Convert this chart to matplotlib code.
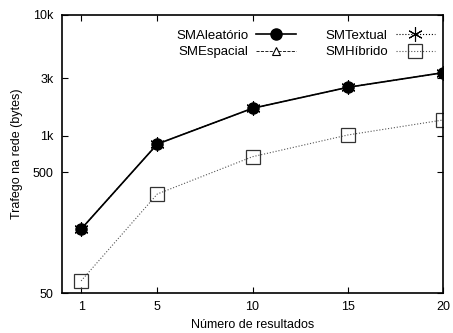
import matplotlib
matplotlib.use("Agg")
import matplotlib.pyplot as plt
from matplotlib.ticker import FixedLocator, FixedFormatter, NullLocator

plt.rcParams['font.family'] = ['Liberation Sans', 'DejaVu Sans']

x = [1, 5, 10, 15, 20]
aleatorio = [169, 855, 1690, 2520, 3330]
espacial = [169, 855, 1690, 2520, 3330]
textual = [169, 855, 1690, 2520, 3330]
hibrido = [63, 330, 672, 1016, 1352]

yticks = [50, 500, 1000, 3000, 10000]
yticklabels = ["50", "500", "1k", "3k", "10k"]
xticks = [1, 5, 10, 15, 20]

fig = plt.figure(figsize=(4.53, 3.33), dpi=100)
ax = fig.add_axes([0.137, 0.12, 0.841, 0.835])

ax.plot(x, espacial, linestyle='--', color='black', lw=0.6, marker='^', ms=6,
        mfc='white', mec='black', mew=0.8, label='SMEspacial')
ax.plot(x, textual, linestyle=':', color='black', lw=0.8, marker=(6, 2, 0), ms=10.5,
        mec='black', mew=0.8, label='SMTextual')
ax.plot(x, aleatorio, linestyle='-', color='black', lw=1.2, marker='o', ms=8,
        mfc='black', mec='black', label='SMAleatório')
ax.plot(x, hibrido, linestyle=':', color='#555555', lw=0.8, marker='s', ms=9.5,
        mfc='none', mec='#333333', mew=0.9, label='SMHíbrido')

ax.set_yscale('log')
ax.set_ylim(50, 10000)
ax.set_xlim(0, 20)
ax.yaxis.set_major_locator(FixedLocator(yticks))
ax.yaxis.set_major_formatter(FixedFormatter(yticklabels))
ax.yaxis.set_minor_locator(NullLocator())
ax.set_xticks(xticks)
ax.tick_params(direction='in', top=True, right=True, labelsize=9, length=4, width=0.8, pad=6)
for s in ax.spines.values():
    s.set_linewidth(1.2)

ax.set_xlabel('Número de resultados', fontsize=9, labelpad=4)
ax.set_ylabel('Trafego na rede (bytes)', fontsize=9, labelpad=7)

h, l = ax.get_legend_handles_labels()
order = [2, 0, 1, 3]
ax.legend([h[i] for i in order], [l[i] for i in order], ncol=2, loc='upper right',
          bbox_to_anchor=(1.0, 0.975), frameon=False, markerfirst=False, fontsize=9.5,
          handlelength=3.0, handletextpad=0.6, columnspacing=2.2, labelspacing=0.3,
          borderaxespad=0.2)

fig.savefig('out.png', dpi=100)
